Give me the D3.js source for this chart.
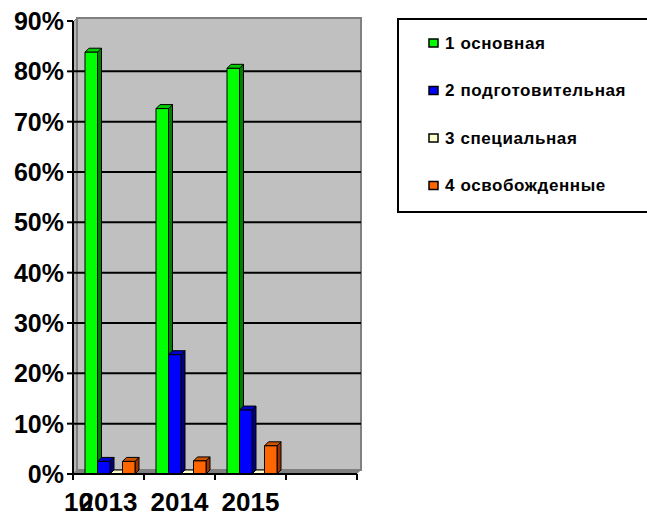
<html>
<head>
    <style>
        body { margin: 0; background: #fff; }
        text { font-family: "Liberation Sans", Arial, sans-serif; font-weight: bold; }
    </style>
    <script src="https://d3js.org/d3.v7.min.js"></script>
</head>
<body>
    <svg width=647 height=512></svg>
</body>
<script>

    // years on the category axis (4th slot is empty in the original)
    const years = ["2013", "2014", "2015", ""];
    const series = ["1 основная", "2 подготовительная", "3 специальная", "4 освобожденные"];

    // shares per year
    const osnovnaya = [0.838, 0.726, 0.806, null];
    const podgotovit = [0.025, 0.237, 0.127, null];
    const specialnaya = [0, 0, 0, null];
    const osvobozhd = [0.025, 0.026, 0.056, null];

    const yTicks = [0, 0.1, 0.2, 0.3, 0.4, 0.5, 0.6, 0.7, 0.8, 0.9];
    const strayLabel = "10";   // leftover label under the first column

    const fronts = ["#00ff00", "#0000ff", "#ffffcc", "#ff6600"];
    const sides  = ["#008000", "#000080", "#999966", "#993300"];
    const tops   = ["#00cc00", "#0000cc", "#ffffcc", "#cc5200"];

    const values = [osnovnaya, podgotovit, specialnaya, osvobozhd];

    const depth = 4;

    const svg = d3.select("svg");

    let x0 = d3.scaleBand()
        .domain(years.map((d, i) => i))
        .range([73, 357]);

    let x1 = d3.scaleBand()
        .domain(series)
        .range([12, 62]);

    let y = d3.scaleLinear()
        .domain([0, 0.9])
        .range([474, 21]);

    const plotLeft = x0.range()[0], plotRight = x0.range()[1];
    const wallTop = y(0.9) - depth + 1, base = y(0);

    // walls
    svg.append("polygon")
        .attr("points", [[plotLeft, wallTop + depth], [plotLeft + depth, wallTop], [plotLeft + depth, base - depth], [plotLeft, base]].join(" "))
        .attr("fill", "#b4b4b4")
        .attr("stroke", "#808080");

    svg.append("rect")
        .attr("x", plotLeft + depth)
        .attr("y", wallTop)
        .attr("width", plotRight - plotLeft)
        .attr("height", base - depth - wallTop)
        .attr("fill", "#c0c0c0")
        .attr("stroke", "#808080")
        .attr("stroke-width", 2);

    svg.append("polygon")
        .attr("points", [[plotLeft, base], [plotLeft + depth, base - depth], [plotRight + depth, base - depth], [plotRight, base]].join(" "))
        .attr("fill", "#808080");

    // gridlines
    svg.append("g")
        .selectAll("line")
        .data(yTicks.filter(d => d > 0 && d < 0.9))
        .join("line")
            .attr("x1", plotLeft)
            .attr("x2", plotRight + depth)
            .attr("y1", d => y(d))
            .attr("y2", d => y(d))
            .attr("stroke", "#000")
            .attr("stroke-width", 2);

    // bars
    const bars = [];
    years.forEach((yr, i) => {
        series.forEach((s, j) => {
            if (values[j][i] != null) bars.push({ i: i, j: j, v: values[j][i] });
        });
    });

    const bar = svg.append("g")
        .selectAll("g")
        .data(bars)
        .join("g")
            .attr("stroke", "#000")
            .attr("stroke-width", 1)
            .attr("stroke-linejoin", "round");

    bar.append("polygon")
        .attr("points", d => {
            let xa = x0(d.i) + x1(series[d.j]) + x1.bandwidth(), ya = y(d.v);
            return [[xa, ya], [xa + depth, ya - depth], [xa + depth, base - depth], [xa, base]].join(" ");
        })
        .attr("fill", d => sides[d.j]);

    bar.append("polygon")
        .attr("points", d => {
            let xa = x0(d.i) + x1(series[d.j]), xb = xa + x1.bandwidth(), ya = y(d.v);
            return [[xa, ya], [xa + depth, ya - depth], [xb + depth, ya - depth], [xb, ya]].join(" ");
        })
        .attr("fill", d => tops[d.j]);

    bar.append("rect")
        .attr("x", d => x0(d.i) + x1(series[d.j]))
        .attr("y", d => y(d.v))
        .attr("width", x1.bandwidth())
        .attr("height", d => base - y(d.v))
        .attr("fill", d => fronts[d.j]);

    // y axis
    const yAxis = svg.append("g");
    yAxis.append("line")
        .attr("x1", plotLeft).attr("x2", plotLeft)
        .attr("y1", y(0.9)).attr("y2", base)
        .attr("stroke", "#000").attr("stroke-width", 2);
    yAxis.selectAll("g")
        .data(yTicks)
        .join("g")
            .attr("transform", d => `translate(${plotLeft},${y(d)})`)
            .call(g => g.append("line")
                .attr("x2", -6)
                .attr("stroke", "#000")
                .attr("stroke-width", 2))
            .call(g => g.append("text")
                .attr("x", -9)
                .attr("dy", "0.36em")
                .attr("text-anchor", "end")
                .style("font-size", "25px")
                .text(d => d3.format(".0%")(d)));

    // x axis
    const xAxis = svg.append("g");
    xAxis.append("line")
        .attr("x1", plotLeft - 5).attr("x2", plotRight)
        .attr("y1", base).attr("y2", base)
        .attr("stroke", "#000").attr("stroke-width", 2);
    xAxis.selectAll("line.tick")
        .data(years.map((d, i) => x0(i)).concat([plotRight]))
        .join("line")
            .attr("class", "tick")
            .attr("x1", d => d).attr("x2", d => d)
            .attr("y1", base).attr("y2", base + 6)
            .attr("stroke", "#000").attr("stroke-width", 2);
    xAxis.append("text")
        .attr("x", plotLeft - 9)
        .attr("y", 511)
        .style("font-size", "26px")
        .text(strayLabel);
    xAxis.selectAll("text.yr")
        .data(years)
        .join("text")
            .attr("class", "yr")
            .attr("x", (d, i) => x0(i) + x0.bandwidth() / 2)
            .attr("y", 511)
            .attr("text-anchor", "middle")
            .style("font-size", "26px")
            .text(d => d);

    // legend
    const legend = svg.append("g");
    legend.append("rect")
        .attr("x", 398).attr("y", 19)
        .attr("width", 260).attr("height", 193)
        .attr("fill", "#fff")
        .attr("stroke", "#000")
        .attr("stroke-width", 2);
    legend.selectAll("g")
        .data(series)
        .join("g")
            .attr("transform", (d, i) => `translate(429,${43 + i * 47.5})`)
            .call(g => g.append("rect")
                .attr("x", 0).attr("y", -4)
                .attr("width", 9).attr("height", 8)
                .attr("fill", (d, i) => fronts[i])
                .attr("stroke", "#000")
                .attr("stroke-width", 1.5))
            .call(g => g.append("text")
                .attr("x", 16)
                .attr("dy", "0.35em")
                .style("font-size", "17px")
                .style("letter-spacing", "0.6px")
                .text(d => d));

</script>
</html>
